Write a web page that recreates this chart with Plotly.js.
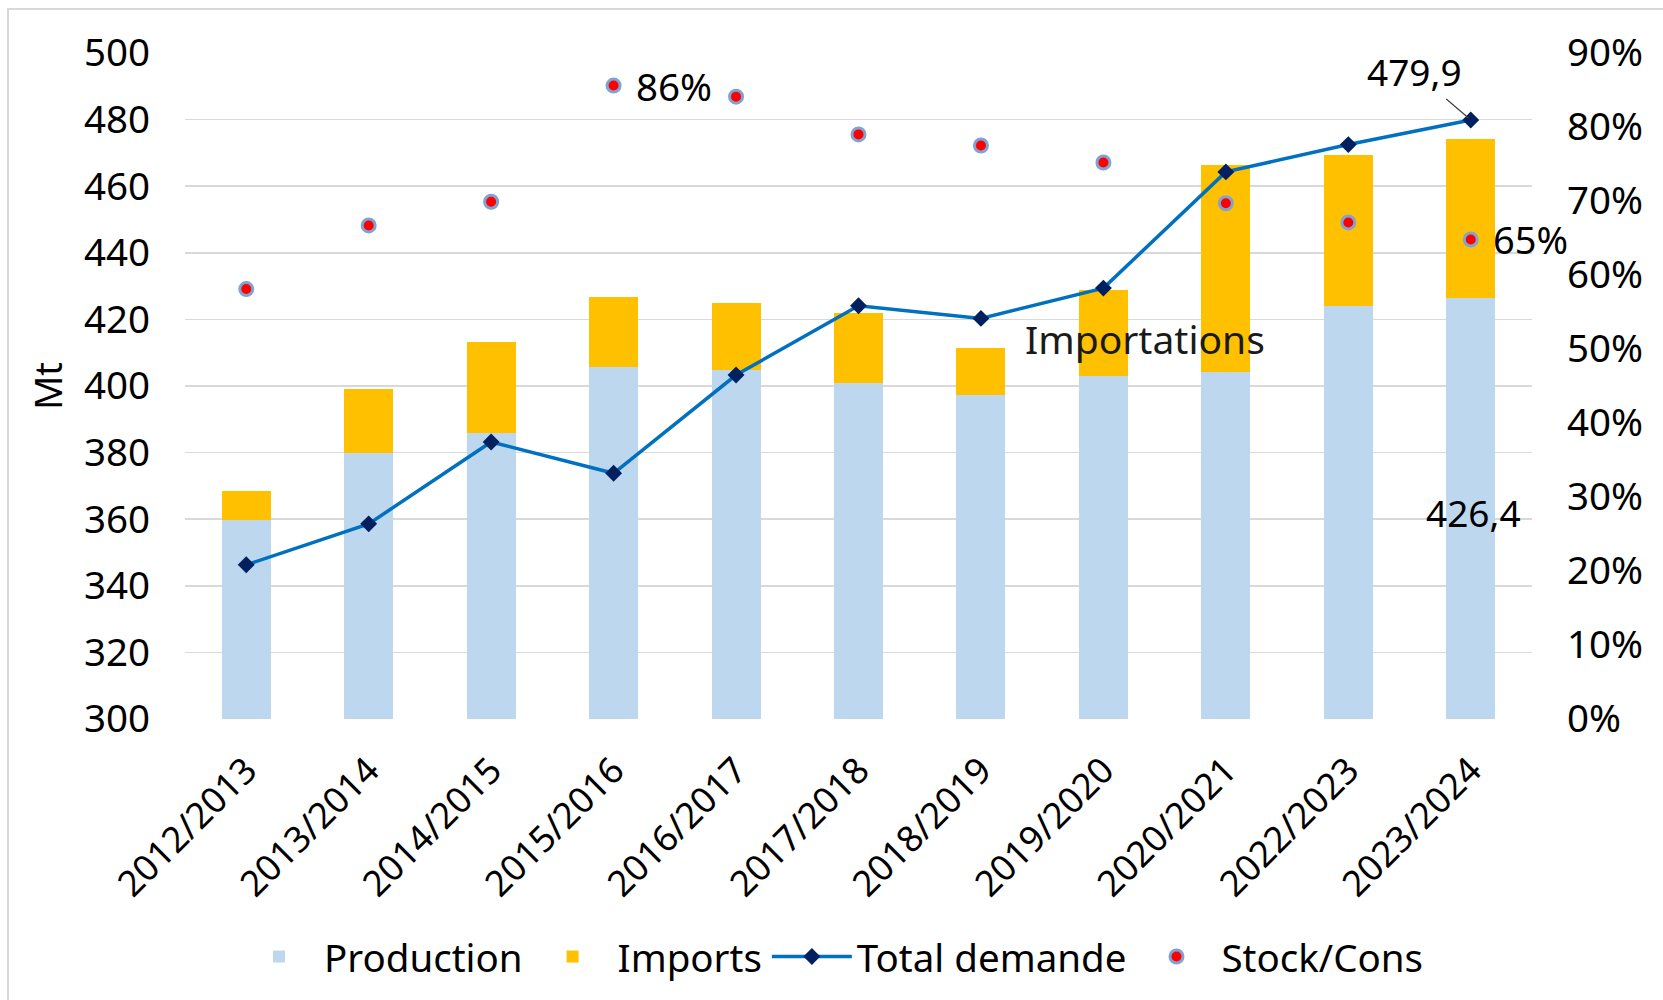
<!DOCTYPE html>
<html>
<head>
<meta charset="utf-8">
<script src="https://cdn.plot.ly/plotly-3.0.1.min.js"></script>
<style>
  html, body { margin: 0; padding: 0; background: #fff; }
  #chart { width: 1663px; height: 1000px; }
  #frame { position: absolute; left: 7px; top: 8px; width: 1660px; height: 1000px;
           border-left: 2.5px solid #d9d9d9; border-top: 2.5px solid #d9d9d9; pointer-events: none; }
</style>
</head>
<body>
<div id="chart"></div>
<div id="frame"></div>
<script>
// ---- data ----
const seasons = ["2012/2013","2013/2014","2014/2015","2015/2016","2016/2017","2017/2018",
                 "2018/2019","2019/2020","2020/2021","2022/2023","2023/2024"];
const production = [359.8, 379.8, 385.8, 405.8, 404.8, 400.8, 397.3, 403.1, 404.3, 424.0, 426.4];
const imports    = [8.7, 19.4, 27.3, 20.8, 20.2, 21.0, 14.2, 25.7, 62.2, 45.5, 47.8];
const demand     = [346.3, 358.6, 383.2, 373.8, 403.3, 424.1, 420.3, 429.4, 464.3, 472.5, 479.9];
const stockCons  = [58.1, 66.7, 69.9, 85.6, 84.1, 79.0, 77.5, 75.2, 69.7, 67.1, 64.8];

const FONT = "Noto Sans, Open Sans, sans-serif";
const fmt = v => v.toFixed(1).replace('.', ',');
const last = seasons.length - 1;

const traces = [
  { type: 'bar', name: 'Production', x: seasons, y: production,
    marker: { color: '#BDD7EE' } },
  { type: 'bar', name: 'Imports', x: seasons, y: imports,
    marker: { color: '#FFC000' } },
  { type: 'scatter', mode: 'lines+markers', name: 'Total demande', x: seasons, y: demand,
    line: { color: '#0070C0', width: 3.5 },
    marker: { symbol: 'diamond', size: 13, color: '#002060' } },
  { type: 'scatter', mode: 'markers', name: 'Stock/Cons', x: seasons, y: stockCons, yaxis: 'y2',
    marker: { symbol: 'circle', size: 13, color: '#FF0000', line: { color: '#7FA3D3', width: 3 } } }
];

const annFont = { family: FONT, size: 37, color: '#000' };
const tickFont = { family: FONT, size: 38.5, color: '#000' };
const layout = {
  width: 1663, height: 1000,
  paper_bgcolor: '#fff', plot_bgcolor: '#fff',
  margin: { l: 185, r: 131, t: 53, b: 281 },
  barmode: 'stack', bargap: 0.6,
  font: { family: FONT, size: 36, color: '#000' },
  showlegend: true,
  legend: { orientation: 'h', xref: 'container', yref: 'container', x: 0.5, xanchor: 'center',
            y: 0.043, yanchor: 'middle', font: { family: FONT, size: 38.5, color: '#000' },
            itemwidth: 80, traceorder: 'normal' },
  xaxis: { type: 'category', range: [-0.5, seasons.length - 0.5], tickangle: -45, showgrid: false,
           zeroline: false, showline: false, ticks: '', ticklabelstandoff: 22,
           tickfont: { family: FONT, size: 36, color: '#000' } },
  yaxis: { range: [300, 500], dtick: 20, tick0: 300, showgrid: true, gridcolor: '#d9d9d9', gridwidth: 1.5,
           zeroline: false, showline: false, ticks: '', ticklabelstandoff: 34, tickfont: tickFont,
           title: { text: 'Mt', standoff: 9, font: { family: FONT, size: 38, color: '#000' } } },
  yaxis2: { overlaying: 'y', side: 'right', range: [0, 90], dtick: 10, tick0: 0, ticksuffix: '%',
            showgrid: false, zeroline: false, showline: false, ticks: '', ticklabelstandoff: 34,
            tickfont: tickFont },
  annotations: [
    { x: seasons[3], y: stockCons[3], xref: 'x', yref: 'y2', text: Math.round(stockCons[3]) + '%',
      showarrow: false, xanchor: 'left', yanchor: 'middle', xshift: 20, font: { family: FONT, size: 38.5, color: '#000' } },
    { x: seasons[last], y: stockCons[last], xref: 'x', yref: 'y2', text: Math.round(stockCons[last]) + '%',
      showarrow: false, xanchor: 'left', yanchor: 'middle', xshift: 20, font: { family: FONT, size: 38, color: '#000' } },
    { x: seasons[last], y: demand[last], xref: 'x', yref: 'y', text: fmt(demand[last]),
      showarrow: true, arrowhead: 0, arrowwidth: 1.2, arrowcolor: '#404040', ax: -56, ay: -48,
      standoff: 3, font: annFont },
    { x: seasons[last], y: 362, xref: 'x', yref: 'y', text: fmt(production[last]),
      showarrow: false, xanchor: 'right', yanchor: 'middle', xshift: 52, font: annFont },
    { x: seasons[8], y: 414.4, xref: 'x', yref: 'y', text: 'Importations',
      showarrow: false, xanchor: 'center', yanchor: 'middle', xshift: -81,
      font: { family: FONT, size: 39, color: '#1a1a1a' } }
  ]
};

Plotly.newPlot('chart', traces, layout, { displayModeBar: false, staticPlot: true });
</script>
</body>
</html>
